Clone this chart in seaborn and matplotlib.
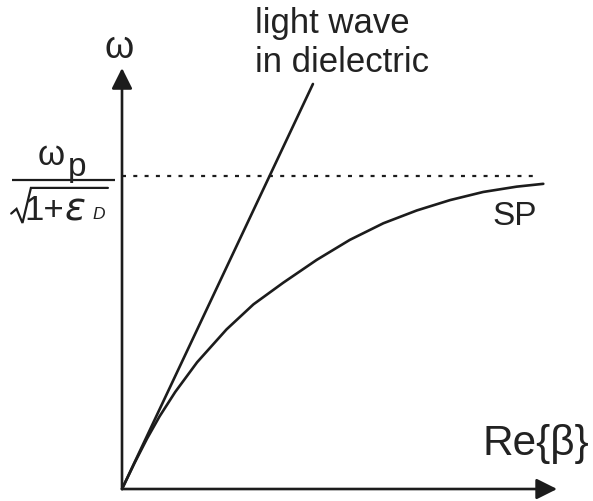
import matplotlib
matplotlib.use("Agg")
import matplotlib.pyplot as plt
import pandas as pd
import seaborn as sns

# Surface-plasmon dispersion, normalised so that omega_sp = omega_p / sqrt(1 + eps_D) = 1
sp_beta = [0.0, 0.04, 0.08, 0.12, 0.17, 0.24, 0.334, 0.42, 0.515, 0.622, 0.728,
           0.835, 0.942, 1.048, 1.154, 1.261, 1.346]
sp_omega = [0.0, 0.083, 0.161, 0.232, 0.310, 0.405, 0.510, 0.590, 0.659, 0.732,
            0.796, 0.849, 0.890, 0.923, 0.949, 0.966, 0.975]

# Light line in the dielectric (straight line through the origin)
light_beta = [0.0, 0.610]
light_omega = [0.0, 1.294]

# Asymptote at omega_sp
asym_beta = [0.0, 1.329]
asym_omega = [1.0, 1.0]

# Axis extents (arrow tips)
beta_axis_end = 1.390
omega_axis_end = 1.345

sns.set_theme(style="white")
plt.rcParams["font.family"] = ["Liberation Sans", "DejaVu Sans"]

ink = "#1c1c1c"
txt = "#222222"

fig = plt.figure(figsize=(5.93, 5.01), dpi=100)
ax = fig.add_axes([0, 0, 1, 1])
ax.set_xlim(-0.3898, 1.5048)
ax.set_ylim(-0.0383, 1.5623)
ax.axis("off")

sp = pd.DataFrame({"beta": sp_beta, "omega": sp_omega})
light = pd.DataFrame({"beta": light_beta, "omega": light_omega})
asym = pd.DataFrame({"beta": asym_beta, "omega": asym_omega})

sns.lineplot(data=sp, x="beta", y="omega", ax=ax, color=ink, lw=1.9,
             sort=False, estimator=None)
sns.lineplot(data=light, x="beta", y="omega", ax=ax, color=ink, lw=1.9,
             sort=False, estimator=None)
lw_d = 1.6
ax.plot(asym["beta"], asym["omega"], color=ink, lw=lw_d,
        linestyle=(0, (4 / 1.389 / lw_d, 7.3 / 1.389 / lw_d)))

# Axes with arrow heads
arrow = dict(arrowstyle="-|>,head_length=0.42,head_width=0.21", color=ink,
             lw=1.9, shrinkA=0, shrinkB=0, mutation_scale=30)
ax.annotate("", xy=(beta_axis_end, 0), xytext=(0, 0), arrowprops=arrow)
ax.annotate("", xy=(0, omega_axis_end), xytext=(0, 0), arrowprops=arrow)

# Axis labels
ax.text(-0.0096, 1.377, "ω", fontsize=27, color=txt, ha="center", va="baseline")
ax.text(1.153, 0.109, "Re{β}", fontsize=30.5, color=txt, ha="left", va="baseline")

# Curve labels
ax.text(0.425, 1.457, "light wave", fontsize=25, color=txt, ha="left", va="baseline")
ax.text(0.425, 1.332, "in dielectric", fontsize=25, color=txt, ha="left", va="baseline")
ax.text(1.185, 0.843, "SP", fontsize=24, color=txt, ha="left", va="baseline")

# omega_p / sqrt(1 + eps_D) tick label
ax.text(-0.268, 1.035, "ω", fontsize=25, color=txt, ha="left", va="baseline")
ax.text(-0.172, 1.000, "p", fontsize=24, color=txt, ha="left", va="baseline")
ax.plot([-0.351, -0.022], [0.987, 0.987], color=ink, lw=1.6, solid_capstyle="butt")
ax.plot([-0.354, -0.337, -0.318, -0.291, -0.045],
        [0.880, 0.895, 0.850, 0.962, 0.962], color=ink, lw=1.6,
        solid_joinstyle="miter")
ax.text(-0.313, 0.859, "1+", fontsize=25, color=txt, ha="left", va="baseline")
ax.text(-0.184, 0.859, "ε", fontsize=28, color=txt, ha="left", va="baseline",
        style="italic", family=["DejaVu Sans"])
ax.text(-0.094, 0.864, "D", fontsize=12.5, color=txt, ha="left", va="baseline",
        style="italic")

fig.savefig("out.png", dpi=100, facecolor="white")
